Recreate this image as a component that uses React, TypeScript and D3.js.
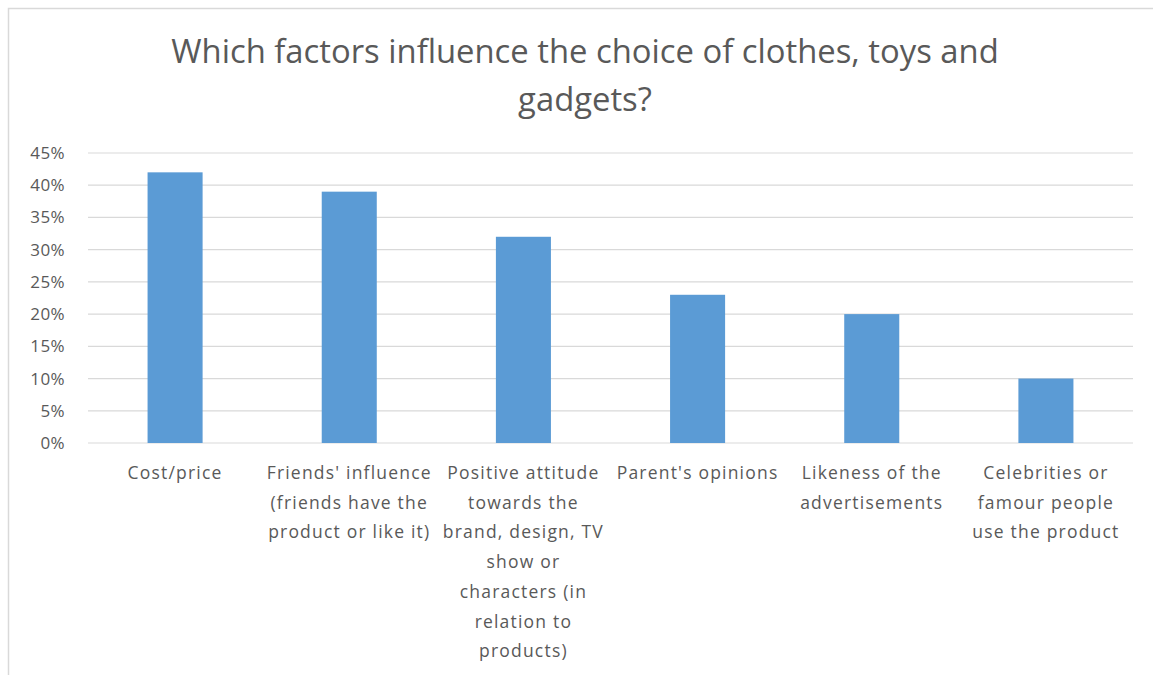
import React from "react";
import * as d3 from "d3";

const title = ["Which factors influence the choice of clothes, toys and", "gadgets?"];
const categories = [
  "Cost/price",
  "Friends' influence (friends have the product or like it)",
  "Positive attitude towards the brand, design, TV show or characters (in relation to products)",
  "Parent's opinions",
  "Likeness of the advertisements",
  "Celebrities or famour people use the product",
];
const categoryLines = [
  ["Cost/price"],
  ["Friends' influence", "(friends have the", "product or like it)"],
  ["Positive attitude", "towards the", "brand, design, TV", "show or", "characters (in", "relation to", "products)"],
  ["Parent's opinions"],
  ["Likeness of the", "advertisements"],
  ["Celebrities or", "famour people", "use the product"],
];
const values = [0.42, 0.39, 0.32, 0.23, 0.20, 0.10];
const yTicks = [0, 0.05, 0.1, 0.15, 0.2, 0.25, 0.3, 0.35, 0.4, 0.45];

export default function App() {
  const W = 1153, H = 675;
  const left = 88, right = 1133, top = 153, bottom = 443;
  const x = d3.scaleBand<string>().domain(categories).range([left, right]).paddingInner(0.684).paddingOuter(0.342);
  const y = d3.scaleLinear().domain([0, 0.45]).range([bottom, top]);
  const fmt = d3.format(".0%");
  const font = "'Open Sans', 'Noto Sans', sans-serif";
  const textColor = "#595959";
  return (
    <svg width={W} height={H} style={{ position: "absolute", left: 0, top: 0, background: "#fff" }} fontFamily={font}>
      <rect x={8.5} y={8.5} width={W + 10} height={H + 10} fill="#fff" stroke="#d9d9d9" strokeWidth={1.5} />
      {title.map((t, i) => (
        <text key={i} x={585} y={63 + i * 48} textAnchor="middle" fontSize={32.8} fill={textColor}>{t}</text>
      ))}
      {yTicks.map((t) => (
        <g key={t}>
          <line x1={left} x2={right} y1={y(t)} y2={y(t)} stroke="#d9d9d9" strokeWidth={1.2} />
          <text x={65} y={y(t)} dy="0.35em" textAnchor="end" fontSize={17} letterSpacing={0.4} fill={textColor}>{fmt(t)}</text>
        </g>
      ))}
      {categories.map((c, i) => (
        <rect key={c} x={x(c)} y={y(values[i])} width={x.bandwidth()} height={bottom - y(values[i])} fill="#5b9bd5" />
      ))}
      {categories.map((c, i) => (
        <text key={c} textAnchor="middle" fontSize={17.5} letterSpacing={1.2} fill={textColor}>
          {categoryLines[i].map((l, j) => (
            <tspan key={j} x={(x(c) as number) + x.bandwidth() / 2} y={479 + j * 29.7}>{l}</tspan>
          ))}
        </text>
      ))}
    </svg>
  );
}
